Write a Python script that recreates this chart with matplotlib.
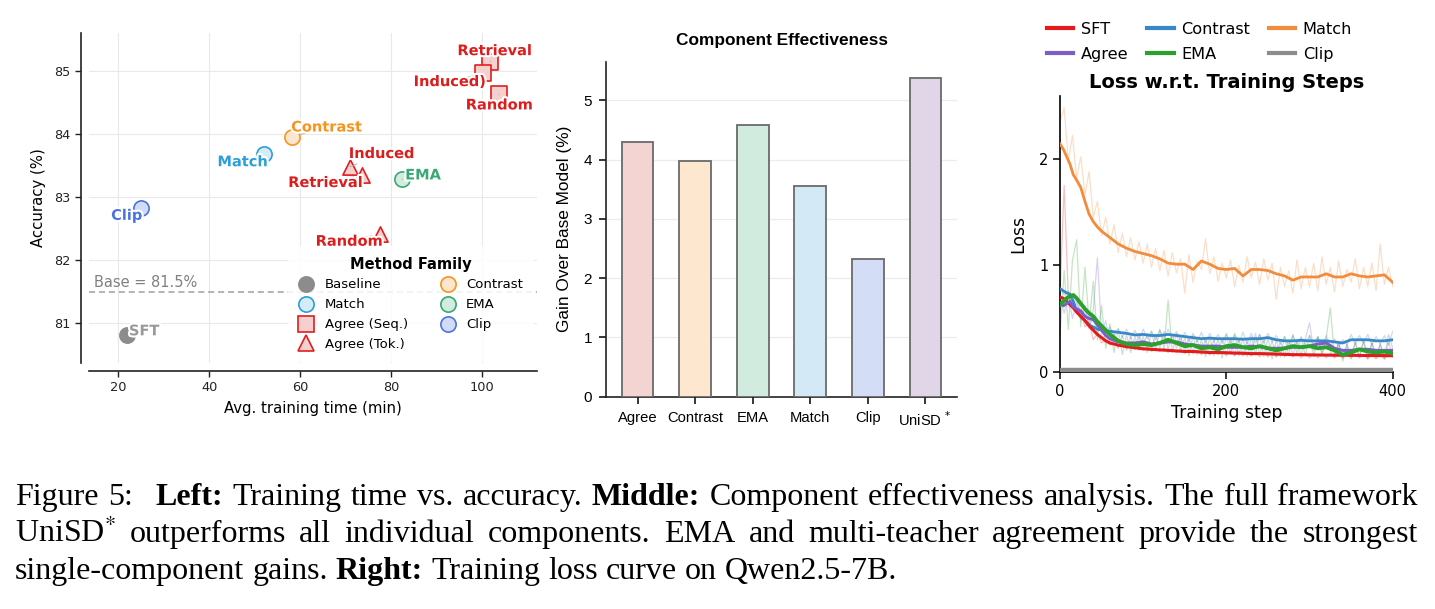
import numpy as np
import matplotlib
matplotlib.use('Agg')
import matplotlib.pyplot as plt
import matplotlib.patheffects as pe
from matplotlib.lines import Line2D

# ======================= DATA =======================
# Left panel: training time (min) vs accuracy (%)
sft_time = [21.85]
sft_acc = [80.81]
method_names = ['Clip', 'Match', 'Contrast', 'EMA']
method_time = [25.0, 52.15, 58.2, 82.4]
method_acc = [82.83, 83.69, 83.95, 83.28]
tok_names = ['Induced', 'Retrieval', 'Random']
tok_time = [71.0, 73.6, 77.6]
tok_acc = [83.48, 83.35, 82.42]
seq_names = ['Retrieval', 'Induced)', 'Random']
seq_time = [101.8, 100.35, 103.8]
seq_acc = [85.14, 84.96, 84.63]
base_acc = 81.5
left_xticks = [20, 40, 60, 80, 100]
left_yticks = [81, 82, 83, 84, 85]

# Middle panel: gain over base model (%)
comp_names = ['Agree', 'Contrast', 'EMA', 'Match', 'Clip', 'UniSD $^{*}$']
comp_gain = [4.30, 3.98, 4.58, 3.55, 2.32, 5.38]

# Right panel: loss vs training step (smoothed curves)
steps_s = [0, 4, 8, 12, 16, 20, 25, 30, 35, 40, 45, 50, 55, 60, 70, 80, 90, 100,
           110, 120, 130, 140, 150, 160, 170, 180, 190, 200, 210, 220, 230, 240,
           250, 260, 270, 280, 290, 300, 310, 320, 330, 340, 350, 360, 370, 380, 390, 400]
match_s = [2.14, 2.09, 2.02, 1.95, 1.85, 1.80, 1.73, 1.60, 1.48, 1.41, 1.36, 1.32, 1.29, 1.26,
           1.20, 1.16, 1.13, 1.11, 1.09, 1.06, 1.02, 1.01, 1.01, 0.96, 1.04, 1.01, 0.97, 0.96,
           0.97, 0.90, 0.96, 0.96, 0.95, 0.92, 0.90, 0.86, 0.89, 0.89, 0.89, 0.92, 0.89, 0.89,
           0.92, 0.90, 0.89, 0.90, 0.91, 0.84]
contrast_s = [0.78, 0.76, 0.74, 0.73, 0.66, 0.57, 0.52, 0.48, 0.44, 0.42, 0.40, 0.39, 0.38, 0.38,
              0.37, 0.36, 0.345, 0.35, 0.34, 0.34, 0.35, 0.34, 0.33, 0.32, 0.31, 0.315, 0.31, 0.31,
              0.31, 0.305, 0.31, 0.31, 0.32, 0.30, 0.29, 0.29, 0.295, 0.29, 0.29, 0.29, 0.28, 0.27,
              0.30, 0.30, 0.30, 0.29, 0.29, 0.30]
sft_s = [0.70, 0.69, 0.66, 0.63, 0.60, 0.56, 0.52, 0.48, 0.43, 0.39, 0.35, 0.32, 0.29, 0.27,
         0.25, 0.235, 0.225, 0.215, 0.21, 0.205, 0.20, 0.195, 0.19, 0.19, 0.185, 0.18, 0.18, 0.178,
         0.175, 0.173, 0.17, 0.17, 0.168, 0.165, 0.163, 0.16, 0.16, 0.158, 0.157, 0.156, 0.155,
         0.155, 0.154, 0.153, 0.152, 0.152, 0.151, 0.15]
agree_s = [0.64, 0.62, 0.64, 0.66, 0.61, 0.59, 0.57, 0.52, 0.50, 0.49, 0.44, 0.39, 0.34, 0.31,
           0.28, 0.27, 0.27, 0.28, 0.26, 0.27, 0.28, 0.28, 0.26, 0.25, 0.24, 0.24, 0.24, 0.23,
           0.23, 0.23, 0.24, 0.235, 0.22, 0.22, 0.22, 0.23, 0.23, 0.24, 0.26, 0.27, 0.22, 0.20,
           0.20, 0.21, 0.21, 0.20, 0.20, 0.20]
ema_s = [0.63, 0.66, 0.69, 0.71, 0.72, 0.69, 0.64, 0.59, 0.55, 0.52, 0.47, 0.43, 0.39, 0.35,
         0.29, 0.26, 0.25, 0.26, 0.25, 0.27, 0.30, 0.27, 0.24, 0.25, 0.22, 0.23, 0.21, 0.24,
         0.25, 0.23, 0.22, 0.24, 0.22, 0.20, 0.22, 0.24, 0.23, 0.24, 0.22, 0.23, 0.20, 0.16,
         0.18, 0.21, 0.19, 0.18, 0.19, 0.17]
clip_steps = [0, 400]
clip_s = [0.02, 0.02]

# Right panel: raw (unsmoothed) losses, every 5 steps from 0 to 400
steps_r = list(range(0, 401, 5))
match_r = [2.35, 2.48, 1.98, 2.22, 1.82, 2.02, 1.66, 1.88, 1.45, 1.60,
           1.28, 1.45, 1.20, 1.38, 1.12, 1.30, 1.08, 1.26, 1.05, 1.22,
           1.02, 1.20, 0.98, 1.16, 0.95, 1.14, 0.90, 1.12, 0.93, 1.06,
           0.74, 1.10, 0.84, 1.04, 0.96, 1.25, 0.92, 1.08, 0.85, 1.02,
           0.88, 1.05, 0.80, 1.00, 0.84, 1.08, 0.88, 1.03, 0.82, 1.06,
           0.86, 1.02, 0.68, 0.98, 0.80, 0.95, 0.74, 1.05, 0.78, 0.98,
           0.80, 1.02, 0.76, 1.08, 0.82, 0.98, 0.75, 1.04, 0.80, 0.96,
           0.84, 1.06, 0.78, 0.98, 0.80, 1.02, 0.76, 1.20, 0.82, 0.98,
           0.80]
contrast_r = [0.80, 0.72, 0.76, 0.62, 0.70, 0.50, 0.58, 0.44, 0.50, 0.38,
              0.44, 0.35, 0.42, 0.33, 0.41, 0.32, 0.40, 0.31, 0.39, 0.30,
              0.40, 0.31, 0.38, 0.30, 0.39, 0.31, 0.40, 0.30, 0.38, 0.29,
              0.37, 0.28, 0.36, 0.28, 0.37, 0.27, 0.36, 0.28, 0.35, 0.27,
              0.36, 0.27, 0.35, 0.27, 0.37, 0.26, 0.36, 0.27, 0.35, 0.27,
              0.36, 0.28, 0.34, 0.26, 0.33, 0.25, 0.34, 0.26, 0.33, 0.25,
              0.34, 0.25, 0.33, 0.24, 0.34, 0.24, 0.31, 0.23, 0.30, 0.25,
              0.35, 0.26, 0.34, 0.27, 0.35, 0.25, 0.33, 0.26, 0.34, 0.25,
              0.38]
sft_r = [0.72, 1.75, 0.70, 0.62, 0.55, 0.58, 0.42, 0.46, 0.30, 0.36,
         0.27, 0.30, 0.25, 0.27, 0.23, 0.26, 0.22, 0.25, 0.21, 0.24,
         0.20, 0.23, 0.19, 0.22, 0.19, 0.22, 0.18, 0.21, 0.18, 0.21,
         0.17, 0.21, 0.17, 0.20, 0.16, 0.20, 0.16, 0.19, 0.16, 0.19,
         0.15, 0.19, 0.15, 0.19, 0.15, 0.18, 0.15, 0.18, 0.14, 0.18,
         0.14, 0.18, 0.14, 0.18, 0.14, 0.17, 0.14, 0.17, 0.13, 0.17,
         0.13, 0.17, 0.13, 0.17, 0.13, 0.17, 0.13, 0.16, 0.13, 0.16,
         0.13, 0.16, 0.13, 0.16, 0.12, 0.16, 0.12, 0.16, 0.12, 0.16,
         0.14]
agree_r = [0.70, 0.55, 0.72, 0.50, 0.66, 0.48, 0.62, 0.40, 0.58, 1.07,
           0.35, 0.48, 0.26, 0.36, 0.22, 0.34, 0.20, 0.33, 0.21, 0.35,
           0.22, 0.36, 0.20, 0.34, 0.22, 0.38, 0.21, 0.35, 0.22, 0.33,
           0.19, 0.32, 0.18, 0.30, 0.17, 0.31, 0.16, 0.30, 0.17, 0.31,
           0.16, 0.30, 0.15, 0.31, 0.16, 0.29, 0.15, 0.36, 0.16, 0.30,
           0.15, 0.29, 0.14, 0.28, 0.15, 0.30, 0.16, 0.29, 0.15, 0.31,
           0.46, 0.20, 0.32, 0.18, 0.30, 0.19, 0.14, 0.27, 0.13, 0.26,
           0.14, 0.27, 0.14, 0.28, 0.13, 0.27, 0.14, 0.26, 0.13, 0.35,
           0.22]
ema_r = [0.35, 0.95, 0.40, 1.05, 1.24, 0.42, 0.98, 0.45, 0.85, 0.30,
         0.62, 0.22, 0.45, 0.18, 0.40, 0.16, 0.35, 0.18, 0.33, 0.20,
         0.34, 0.18, 0.38, 0.20, 0.40, 0.22, 0.67, 0.18, 0.36, 0.20,
         0.32, 0.15, 0.34, 0.16, 0.30, 0.14, 0.33, 0.15, 0.31, 0.13,
         0.35, 0.16, 0.36, 0.15, 0.32, 0.14, 0.33, 0.16, 0.35, 0.14,
         0.32, 0.12, 0.30, 0.14, 0.33, 0.15, 0.35, 0.16, 0.32, 0.15,
         0.34, 0.14, 0.33, 0.15, 0.31, 0.60, 0.14, 0.28, 0.10, 0.25,
         0.12, 0.28, 0.14, 0.30, 0.12, 0.27, 0.13, 0.26, 0.12, 0.28,
         0.15]
right_xticks = [0, 200, 400]
right_yticks = [0, 1, 2]

# Caption text
cap_line1 = [('Figure', False), ('5:', False), ('Left:', True), ('Training', False), ('time', False),
             ('vs.', False), ('accuracy.', False), ('Middle:', True), ('Component', False),
             ('effectiveness', False), ('analysis.', False), ('The', False), ('full', False),
             ('framework', False)]
cap_line2 = [('UniSD$^{*}$', False), ('outperforms', False), ('all', False), ('individual', False),
             ('components.', False), ('EMA', False), ('and', False), ('multi-teacher', False),
             ('agreement', False), ('provide', False), ('the', False), ('strongest', False)]
cap_line3 = [('single-component', False), ('gains.', False), ('Right:', True), ('Training', False),
             ('loss', False), ('curve', False), ('on', False), ('Qwen2.5-7B.', False)]

# ======================= FIGURE =======================
W, H = 1435, 609
fig = plt.figure(figsize=(W / 100, H / 100), dpi=100)
plt.rcParams['font.family'] = ['DejaVu Sans']

def fx(px):
    return px / W

def fy(py):
    return 1 - py / H

# ---------------- Left panel ----------------
ax1 = fig.add_axes([fx(89.3), fy(363), fx(536.7) - fx(89.3), fy(33) - fy(363)])
ax1.set_xlim(13.6, 112.1)
ax1.set_ylim(80.37, 85.6)
for s in ['top', 'right']:
    ax1.spines[s].set_visible(False)
for s in ['left', 'bottom']:
    ax1.spines[s].set_position(('outward', 5.8))
    ax1.spines[s].set_linewidth(1.2)
    ax1.spines[s].set_color('#222222')
ax1.set_xticks(left_xticks)
ax1.set_yticks(left_yticks)
ax1.tick_params(labelsize=9.3, length=4, width=1, colors='#222222')
ax1.grid(True, color='#e9e9e9', lw=0.8)
ax1.set_axisbelow(True)
ax1.set_xlabel('Avg. training time (min)', fontsize=10.7, labelpad=5)
ax1.set_ylabel('Accuracy (%)', fontsize=10.7, labelpad=6)

ax1.axhline(base_acc, color='#a0a0a0', ls=(0, (4, 2.5)), lw=1.1, zorder=1)
ax1.text(14.7, base_acc + 0.15, 'Base = 81.5%', color='#808080', fontsize=10.5,
         ha='left', va='center', zorder=2)

fam_style = {
    'Baseline': ('#8c8c8c', '#8c8c8c'),
    'Match': ('#2b9fd9', '#d5ecf8'),
    'Contrast': ('#f7941d', '#fde6cf'),
    'EMA': ('#38a874', '#d2eddf'),
    'Clip': ('#4a74e0', '#d3dcf7'),
    'Agree': ('#e01f1f', '#f6cfcf'),
}
label_color = {'Baseline': '#999999', 'Match': '#2b9fd9', 'Contrast': '#f7941d',
               'EMA': '#38a874', 'Clip': '#4a74e0', 'Agree': '#dd1c1c'}
msize = 120

ax1.scatter(sft_time, sft_acc, s=msize, marker='o', facecolor=fam_style['Baseline'][1],
            edgecolor=fam_style['Baseline'][0], lw=1.2, zorder=3)
for n, xv, yv in zip(method_names, method_time, method_acc):
    ec, fc = fam_style[n]
    ax1.scatter([xv], [yv], s=msize, marker='o', facecolor=fc, edgecolor=ec, lw=1.2, zorder=3)
ec, fc = fam_style['Agree']
ax1.scatter(tok_time, tok_acc, s=msize, marker='^', facecolor=fc, edgecolor=ec, lw=1.2, zorder=3)
ax1.scatter(seq_time, seq_acc, s=msize, marker='s', facecolor=fc, edgecolor=ec, lw=1.2, zorder=3)

stroke = [pe.withStroke(linewidth=3, foreground='white')]

def point_label(text, xy, xytext, color):
    ax1.annotate(text, xy=xy, xytext=xytext, textcoords='data', ha='center', va='center',
                 fontsize=10.5, fontweight='bold', color=color, path_effects=stroke, zorder=5,
                 arrowprops=dict(arrowstyle='-', color='#aaaaaa', lw=0.6, shrinkA=0, shrinkB=6))

# label positions (layout)
sft_lab = (25.7, 80.88)
method_lab = [(21.85, 82.71), (47.4, 83.56), (65.9, 84.11), (87.1, 83.35)]
tok_lab = [(78.0, 83.69), (65.65, 83.23), (70.85, 82.30)]
seq_lab = [(102.9, 85.32), (93.0, 84.83), (103.9, 84.46)]

point_label('SFT', (sft_time[0], sft_acc[0]), sft_lab, label_color['Baseline'])
for n, xv, yv, p in zip(method_names, method_time, method_acc, method_lab):
    point_label(n, (xv, yv), p, label_color[n])
for n, xv, yv, p in zip(tok_names, tok_time, tok_acc, tok_lab):
    point_label(n, (xv, yv), p, label_color['Agree'])
for n, xv, yv, p in zip(seq_names, seq_time, seq_acc, seq_lab):
    point_label(n, (xv, yv), p, label_color['Agree'])

def mhandle(marker, fam, label):
    ec, fc = fam_style[fam]
    return Line2D([], [], ls='', marker=marker, markersize=11, markerfacecolor=fc,
                  markeredgecolor=ec, markeredgewidth=1.2, label=label)

handles1 = [mhandle('o', 'Baseline', 'Baseline'), mhandle('o', 'Match', 'Match'),
            mhandle('s', 'Agree', 'Agree (Seq.)'), mhandle('^', 'Agree', 'Agree (Tok.)'),
            mhandle('o', 'Contrast', 'Contrast'), mhandle('o', 'EMA', 'EMA'),
            mhandle('o', 'Clip', 'Clip')]
leg1 = ax1.legend(handles=handles1, title='Method Family', ncol=2, loc='upper left',
                  bbox_to_anchor=(fx(288), fy(246)), bbox_transform=fig.transFigure,
                  fontsize=9.5, title_fontproperties={'weight': 'bold', 'size': 10.5},
                  frameon=True, framealpha=0.85, facecolor='white', edgecolor='none',
                  borderpad=0.8, labelspacing=0.52, handlelength=1.2, handletextpad=0.8,
                  columnspacing=2.4, borderaxespad=0)
leg1.set_zorder(4)

# ---------------- Middle panel ----------------
ax2 = fig.add_axes([fx(606), fy(396.7), fx(957) - fx(606), fy(61.7) - fy(396.7)])
bar_colors = ['#f4d3d3', '#fde8cf', '#d1ebdf', '#d3e9f6', '#d4ddf6', '#e1d5e8']
xpos = np.arange(len(comp_names))
ax2.bar(xpos, comp_gain, width=0.55, color=bar_colors, edgecolor='#6a6a6a', linewidth=1.3, zorder=3)
ax2.set_xlim(-0.55, 5.55)
ax2.set_ylim(0, 5.65)
ax2.set_xticks(xpos)
ax2.set_xticklabels(comp_names, fontfamily='Liberation Sans', fontsize=10.6)
ax2.set_yticks([0, 1, 2, 3, 4, 5])
for lab in ax2.get_yticklabels():
    lab.set_fontfamily('Liberation Sans')
ax2.tick_params(axis='y', labelsize=11, length=5, width=1.1, pad=5)
ax2.tick_params(axis='x', length=5, width=1.1, pad=5)
ax2.grid(axis='y', color='#ececec', lw=0.9, zorder=0)
ax2.set_axisbelow(True)
for s in ['top', 'right']:
    ax2.spines[s].set_visible(False)
for s in ['left', 'bottom']:
    ax2.spines[s].set_linewidth(1.2)
    ax2.spines[s].set_color('#222222')
ax2.set_ylabel('Gain Over Base Model (%)', fontfamily='Liberation Sans', fontsize=12.4, labelpad=8)
ax2.set_title('Component Effectiveness', fontfamily='Liberation Sans', fontsize=12.4,
              fontweight='bold', pad=12)

# ---------------- Right panel ----------------
ax3 = fig.add_axes([fx(1060), fy(371.7), fx(1392.7) - fx(1060), fy(96) - fy(371.7)])
c_sft, c_con, c_match = '#e41a1c', '#3a87c8', '#f28b3c'
c_agree, c_ema, c_clip = '#7b5fc7', '#2ca02c', '#8c8c8c'
raw_alpha = 0.28
for ys, c in [(match_r, c_match), (contrast_r, c_con), (sft_r, c_sft), (agree_r, c_agree), (ema_r, c_ema)]:
    ax3.plot(steps_r, ys, color=c, lw=0.9, alpha=raw_alpha, zorder=1)
ax3.plot(steps_s, match_s, color=c_match, lw=2.0, zorder=3)
ax3.plot(steps_s, contrast_s, color=c_con, lw=2.0, zorder=3)
ax3.plot(steps_s, sft_s, color=c_sft, lw=2.2, zorder=3)
ax3.plot(steps_s, agree_s, color=c_agree, lw=2.2, zorder=3)
ax3.plot(steps_s, ema_s, color=c_ema, lw=2.8, zorder=4)
ax3.plot(clip_steps, clip_s, color=c_clip, lw=3.2, zorder=4)
ax3.set_xlim(0, 400)
ax3.set_ylim(0, 2.59)
ax3.set_xticks(right_xticks)
ax3.set_yticks(right_yticks)
ax3.tick_params(labelsize=10.5, length=5, width=1.1)
for s in ['top', 'right']:
    ax3.spines[s].set_visible(False)
for s in ['left', 'bottom']:
    ax3.spines[s].set_linewidth(1.2)
ax3.set_xlabel('Training step', fontsize=12.4, labelpad=4)
ax3.set_ylabel('Loss', fontsize=12.4, labelpad=8)
ax3.set_title('Loss w.r.t. Training Steps', fontsize=14, fontweight='bold', pad=6)

def lhandle(c, label):
    return Line2D([], [], color=c, lw=3, label=label)

handles3 = [lhandle(c_sft, 'SFT'), lhandle(c_agree, 'Agree'), lhandle(c_con, 'Contrast'),
            lhandle(c_ema, 'EMA'), lhandle(c_match, 'Match'), lhandle(c_clip, 'Clip')]
ax3.legend(handles=handles3, ncol=3, loc='upper left', bbox_to_anchor=(fx(1046.7), fy(22)),
           bbox_transform=fig.transFigure, frameon=False, fontsize=11.6, handlelength=1.65,
           handletextpad=0.47, columnspacing=1.15, labelspacing=0.62, borderpad=0,
           borderaxespad=0)

# ---------------- Caption ----------------
r = fig.canvas.get_renderer()
cap_family = 'Liberation Serif'

def make_words(words, fs):
    ts = []
    for w, b in words:
        t = fig.text(0, 0, w, fontsize=fs, family=cap_family,
                     fontweight='bold' if b else 'normal', math_fontfamily='stix',
                     va='baseline', ha='left')
        ts.append(t)
    return ts

def widths(ts):
    return [t.get_window_extent(renderer=r).width for t in ts]

g1 = [1.0] * (len(cap_line1) - 1)
g1[1] = 2.4
fs0 = 20.0
t1 = make_words(cap_line1, fs0)
nat = sum(widths(t1)) + sum(g1) * 0.25 * fs0 * 100 / 72
fs = fs0 * (1418 - 15) / nat * 0.985
for t in t1:
    t.set_fontsize(fs)
t2 = make_words(cap_line2, fs)
t3 = make_words(cap_line3, fs)

def place(ts, base_y, justify, gapw=None):
    ws = widths(ts)
    n = len(ts)
    if gapw is None:
        gapw = [1.0] * (n - 1)
    if justify:
        unit = ((1418 - 15) - sum(ws)) / sum(gapw)
    else:
        unit = 0.25 * fs * 100 / 72
    x = 15.0
    for i, t in enumerate(ts):
        t.set_position((fx(x), fy(base_y)))
        if i < n - 1:
            x += ws[i] + unit * gapw[i]

place(t1, 505, True, g1)
place(t2, 542, True)
place(t3, 579, False)

fig.savefig('out.png', dpi=100)
